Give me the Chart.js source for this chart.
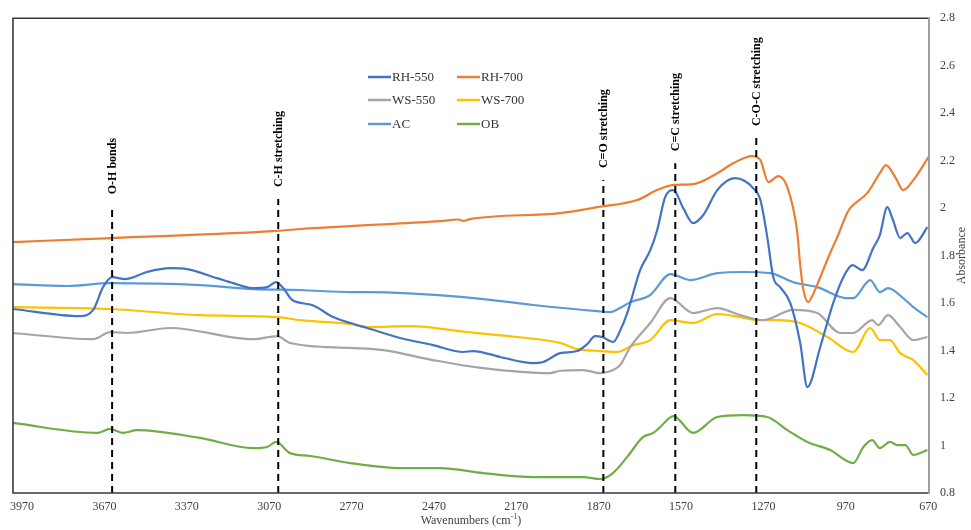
<!DOCTYPE html>
<html><head><meta charset="utf-8">
<script src="https://cdn.jsdelivr.net/npm/chart.js@4.4.1/dist/chart.umd.min.js"></script>
<style>html,body{margin:0;padding:0;background:#fff;}#wrap{width:971px;height:530px;}</style>
</head><body><div id="wrap"><canvas id="c" width="971" height="530"></canvas></div>
<script>
// ---- data (wavenumber in cm-1, absorbance) ----
const rh550Wave = [4003,3759,3711,3675,3642,3595,3515,3431,3369,3260,3201,3128,3077,3045,3019,2986,2914,2837,2775,2713,2593,2473,2363,2327,2229,2108,2072,2010,1948,1912,1883,1857,1817,1791,1766,1719,1682,1657,1628,1598,1562,1526,1489,1438,1373,1307,1281,1256,1234,1209,1172,1136,1110,1063,1016,979,946,910,870,846,819,798,772,746,717,673];
const rh550Abs  = [1.575,1.545,1.571,1.667,1.709,1.701,1.731,1.747,1.743,1.705,1.684,1.663,1.667,1.688,1.663,1.613,1.592,1.541,1.516,1.495,1.453,1.423,1.394,1.398,1.373,1.347,1.352,1.389,1.398,1.427,1.461,1.457,1.436,1.486,1.558,1.739,1.823,1.907,2.046,2.076,2.0,1.937,1.971,2.076,2.126,2.084,2.034,1.878,1.709,1.667,1.6,1.432,1.246,1.415,1.6,1.709,1.76,1.739,1.832,1.886,2.004,1.949,1.874,1.895,1.853,1.92];

const rh700Wave = [4003,3645,3056,2957,2713,2447,2380,2363,2338,2010,1875,1730,1657,1602,1526,1438,1380,1311,1281,1252,1216,1183,1147,1136,1125,1107,1092,1063,1027,1001,965,954,892,846,824,790,761,724,669];
const rh700Abs  = [1.857,1.874,1.903,1.912,1.928,1.945,1.952,1.946,1.954,1.979,2.004,2.034,2.076,2.097,2.101,2.147,2.189,2.219,2.202,2.109,2.135,2.088,1.90,1.76,1.66,1.604,1.63,1.709,1.811,1.878,1.979,2.0,2.063,2.147,2.181,2.131,2.076,2.118,2.215];

const ws550Wave = [4003,3711,3649,3587,3431,3128,3041,2994,2775,2655,2473,2291,2047,2010,1926,1864,1817,1791,1755,1682,1609,1526,1438,1354,1271,1161,1074,990,943,874,852,816,772,724,673];
const ws550Abs  = [1.474,1.448,1.478,1.474,1.495,1.448,1.461,1.432,1.411,1.402,1.36,1.326,1.305,1.315,1.318,1.305,1.318,1.34,1.415,1.516,1.621,1.558,1.579,1.549,1.528,1.571,1.558,1.474,1.474,1.528,1.507,1.549,1.499,1.444,1.457];

const ws700Wave = [4003,3649,3322,3041,2957,2775,2713,2557,2349,2167,2010,1948,1864,1802,1744,1682,1609,1526,1438,1354,1292,1220,1136,1037,943,881,846,809,772,724,673];
const ws700Abs  = [1.583,1.575,1.549,1.541,1.528,1.512,1.499,1.503,1.478,1.457,1.432,1.406,1.398,1.394,1.423,1.444,1.528,1.516,1.554,1.541,1.528,1.528,1.516,1.457,1.394,1.495,1.444,1.444,1.389,1.36,1.297];

const acWave = [4003,3806,3649,3322,3128,2957,2775,2713,2363,2108,1875,1828,1791,1755,1682,1609,1537,1438,1343,1245,1161,1074,965,943,881,846,816,761,724,673];
const acAbs  = [1.68,1.672,1.684,1.676,1.659,1.655,1.646,1.646,1.625,1.592,1.566,1.562,1.58,1.604,1.634,1.722,1.697,1.726,1.731,1.726,1.688,1.667,1.621,1.621,1.697,1.646,1.663,1.621,1.583,1.541];

const obWave = [4003,3697,3649,3602,3551,3322,3128,3077,3045,2994,2921,2775,2593,2447,2291,2108,1926,1864,1817,1766,1708,1671,1646,1598,1526,1438,1343,1256,1183,1110,1027,943,906,874,846,809,783,753,724,673];
const obAbs  = [1.095,1.053,1.07,1.053,1.065,1.032,0.989,0.994,1.015,0.968,0.956,0.926,0.905,0.905,0.884,0.867,0.867,0.859,0.885,0.952,1.036,1.053,1.078,1.124,1.053,1.12,1.128,1.12,1.065,1.015,0.981,0.926,0.994,1.023,0.989,1.015,1.002,1.002,0.96,0.981];

const seriesNames  = ['RH-550','RH-700','WS-550','WS-700','AC','OB'];
const seriesColors = ['#4472C4','#ED7D31','#A5A5A5','#FFC000','#5B9BD5','#70AD47'];

const xTickValues = [3970,3670,3370,3070,2770,2470,2170,1870,1570,1270,970,670];
const yTickValues = [0.8,1,1.2,1.4,1.6,1.8,2,2.2,2.4,2.6,2.8];

const bandLabels = ['O-H bonds','C-H stretching','C=O stretching','C=C stretching','C-O-C stretching'];
const bandWave   = [3642,3037,1853,1591,1296];
const bandTop    = [2.008,2.038,2.118,2.189,2.295];

const xTitle = 'Wavenumbers (cm';
const xTitleSup = '-1';
const yTitle = 'Absorbance';

// ---- build datasets ----
const pairs = (w,a) => w.map((v,i)=>({x:v,y:a[i]}));
const seriesData = [pairs(rh550Wave,rh550Abs),pairs(rh700Wave,rh700Abs),pairs(ws550Wave,ws550Abs),pairs(ws700Wave,ws700Abs),pairs(acWave,acAbs),pairs(obWave,obAbs)];

const datasets = [];
bandWave.forEach((w,i)=>{
  datasets.push({label:'band'+i, data:[{x:w,y:0.8},{x:w,y:bandTop[i]}], borderColor:'#000', borderWidth:2, borderDash:[7,5], pointRadius:0, showLine:true, order:0});
});
seriesNames.forEach((n,i)=>{
  datasets.push({label:n, data:seriesData[i], borderColor:seriesColors[i], backgroundColor:seriesColors[i], borderWidth:2.2, pointRadius:0, showLine:true, cubicInterpolationMode:'monotone', order:1});
});

const FONT = '"Liberation Serif","Times New Roman",serif';

const decor = {
  id:'decor',
  afterDatasetsDraw(chart){
    const {ctx, chartArea:a, scales:{x,y}} = chart;
    ctx.save();
    // plot frame
    ctx.lineWidth = 1.6; ctx.strokeStyle = '#3a3a3a';
    ctx.beginPath(); ctx.moveTo(a.right,a.top); ctx.lineTo(a.left,a.top); ctx.lineTo(a.left,a.bottom); ctx.lineTo(a.right,a.bottom); ctx.stroke();
    ctx.strokeStyle = '#a0a0a0'; ctx.lineWidth = 2;
    ctx.beginPath(); ctx.moveTo(a.right,a.top-1); ctx.lineTo(a.right,a.bottom+1); ctx.stroke();
    // band labels
    ctx.font = 'bold 12px ' + FONT; ctx.fillStyle = '#000'; ctx.textAlign = 'left'; ctx.textBaseline = 'middle';
    bandLabels.forEach((t,i)=>{
      const px = x.getPixelForValue(bandWave[i]);
      const py = y.getPixelForValue(bandTop[i]) - 12;
      ctx.save(); ctx.translate(px+1, py); ctx.rotate(-Math.PI/2); ctx.fillText(t,0,0); ctx.restore();
    });
    // legend
    const cols = [368, 457], rows = [77, 100, 124];
    ctx.font = '13px ' + FONT; ctx.fillStyle = '#333'; ctx.textBaseline = 'middle'; ctx.textAlign = 'left';
    seriesNames.forEach((n,i)=>{
      const cx = cols[i%2], cy = rows[Math.floor(i/2)];
      ctx.strokeStyle = seriesColors[i]; ctx.lineWidth = 2.5;
      ctx.beginPath(); ctx.moveTo(cx,cy); ctx.lineTo(cx+23,cy); ctx.stroke();
      ctx.fillText(n, cx+24, cy+1);
    });
    // x title with superscript
    ctx.fillStyle = '#404040';
    ctx.font = '12px ' + FONT;
    const w1 = ctx.measureText(xTitle).width;
    ctx.font = '8px ' + FONT;
    const w2 = ctx.measureText(xTitleSup).width;
    ctx.font = '12px ' + FONT;
    const w3 = ctx.measureText(')').width;
    let sx = (a.left + a.right)/2 - (w1+w2+w3)/2;
    const ty = 521;
    ctx.fillText(xTitle, sx, ty);
    ctx.font = '8px ' + FONT; ctx.fillText(xTitleSup, sx+w1, ty-4);
    ctx.font = '12px ' + FONT; ctx.fillText(')', sx+w1+w2, ty);
    // y title
    ctx.save(); ctx.translate(962, (a.top+a.bottom)/2); ctx.rotate(-Math.PI/2);
    ctx.textAlign = 'center'; ctx.fillText(yTitle, 0, 0); ctx.restore();
    ctx.restore();
  }
};

new Chart(document.getElementById('c'), {
  type:'scatter',
  data:{datasets},
  options:{
    responsive:false, devicePixelRatio:1, animation:false,
    layout:{padding:{left:13, top:18, right:0, bottom:0}},
    plugins:{legend:{display:false}, tooltip:{enabled:false}},
    scales:{
      x:{type:'linear', reverse:true, min:667, max:4003,
         afterBuildTicks: s => { s.ticks = xTickValues.map(v=>({value:v})); },
         afterFit: s => { s.height = 37; },
         grid:{display:false, drawTicks:false}, border:{display:false},
         ticks:{padding:7, color:'#404040', font:{family:FONT, size:12}, maxRotation:0, autoSkip:false, callback:v=>String(v)}},
      y:{type:'linear', position:'right', min:0.8, max:2.8,
         afterBuildTicks: s => { s.ticks = yTickValues.map(v=>({value:v})); },
         afterFit: s => { s.width = 42; },
         grid:{display:false, drawTicks:false}, border:{display:false},
         ticks:{padding:11, color:'#404040', font:{family:FONT, size:12}, callback:v=>String(Math.round(v*10)/10)}}
    }
  },
  plugins:[decor]
});
</script></body></html>
